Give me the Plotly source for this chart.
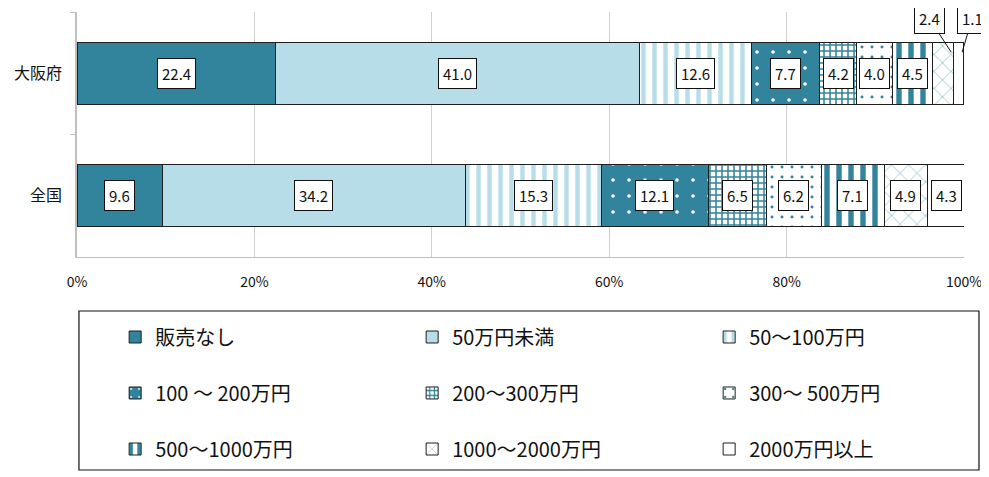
import plotly.graph_objects as go

# ---- data ----
categories = ["大阪府", "全国"]
series_names = ["販売なし", "50万円未満", "50～100万円", "100 ～ 200万円", "200～300万円",
                "300～ 500万円", "500～1000万円", "1000～2000万円", "2000万円以上"]
osaka = [22.4, 41.0, 12.6, 7.7, 4.2, 4.0, 4.5, 2.4, 1.1]
zenkoku = [9.6, 34.2, 15.3, 12.1, 6.5, 6.2, 7.1, 4.9, 4.3]
x_ticks = [0, 20, 40, 60, 80, 100]
x_tick_labels = ["0%", "20%", "40%", "60%", "80%", "100%"]

# ---- styles ----
TEAL = "#31849B"
LIGHT = "#B7DDE8"
WHITE = "#FFFFFF"
styles = [
    dict(bg=TEAL, shape="", fg=TEAL, size=8, sol=0.3),
    dict(bg=LIGHT, shape="", fg=LIGHT, size=8, sol=0.3),
    dict(bg=WHITE, shape="|", fg=LIGHT, size=11, sol=0.4),
    dict(bg=TEAL, shape=".", fg=WHITE, size=16, sol=0.04),
    dict(bg=WHITE, shape="+", fg=TEAL, size=6, sol=0.45),
    dict(bg=WHITE, shape=".", fg=TEAL, size=10, sol=0.07),
    dict(bg=WHITE, shape="|", fg=TEAL, size=12, sol=0.45),
    dict(bg=WHITE, shape="x", fg=TEAL, size=12, sol=0.07),
    dict(bg=WHITE, shape="", fg=WHITE, size=8, sol=0.3),
]
legend_ids = ["legend", "legend", "legend", "legend2", "legend2", "legend2",
              "legend3", "legend3", "legend3"]

FONT = "Noto Sans CJK JP"

fig = go.Figure()
for i, name in enumerate(series_names):
    st = styles[i]
    pattern = dict(shape=st["shape"], fgcolor=st["fg"], bgcolor=st["bg"],
                   size=st["size"], solidity=st["sol"], fillmode="replace")
    fig.add_trace(go.Bar(
        y=categories, x=[osaka[i], zenkoku[i]], orientation="h", name=name,
        marker=dict(color=st["bg"], line=dict(color="#1e1e1e", width=1), pattern=pattern),
        legend=legend_ids[i], hoverinfo="skip",
    ))

# ---- data labels ----
annotations = []
for cat, vals in zip(categories, [osaka, zenkoku]):
    cum = 0.0
    for i, v in enumerate(vals):
        mid = cum + v / 2
        common = dict(text=f"{v:.1f}", font=dict(family=FONT, size=15, color="#111"),
                      bgcolor="white", bordercolor="#111", borderwidth=1, borderpad=4,
                      xref="x", yref="y", y=cat)
        if cat == "大阪府" and i >= 7:
            tip = cum + v * 0.9
            annotations.append(dict(common, x=tip, showarrow=True, arrowhead=0,
                                    arrowwidth=1, arrowcolor="#111", yshift=21,
                                    ax=(-22 if i == 7 else 10), ay=-34))
        else:
            annotations.append(dict(common, x=mid, showarrow=False))
        cum += v

# page body adds an 8px offset, so the figure is 8px smaller and shifted up-left
fig.update_layout(
    barmode="stack",
    bargap=0.49,
    width=981, height=469,
    margin=dict(l=69, r=25, t=4, b=220, autoexpand=False),
    plot_bgcolor="white", paper_bgcolor="white",
    font=dict(family=FONT, color="#111"),
    annotations=annotations,
    xaxis=dict(range=[0, 100], tickvals=x_ticks, ticktext=x_tick_labels,
               showgrid=True, gridcolor="#d0d0d0", gridwidth=1,
               showline=True, linecolor="#bfbfbf", linewidth=1, zeroline=False,
               ticks="", tickfont=dict(family=FONT, size=14, color="#111"),
               ticklabelstandoff=12),
    yaxis=dict(categoryorder="array", categoryarray=categories, autorange="reversed",
               showline=True, linecolor="#bfbfbf", linewidth=1.5, ticks="outside",
               tickson="boundaries", ticklen=5, tickcolor="#bfbfbf",
               tickfont=dict(family=FONT, size=16, color="#111"), ticklabelstandoff=10),
    shapes=[dict(type="rect", xref="paper", yref="paper",
                 x0=0.0022, x1=1.0169, y0=-0.8694, y1=-0.2204,
                 line=dict(color="#111", width=1.2), fillcolor="rgba(0,0,0,0)")],
)

leg_common = dict(orientation="h", entrywidth=252, entrywidthmode="pixels",
                  font=dict(family=FONT, size=20, color="#111"),
                  bgcolor="rgba(0,0,0,0)", borderwidth=0, xanchor="left",
                  yanchor="middle", x=0.043, itemwidth=30, traceorder="normal")
fig.update_layout(
    legend=dict(leg_common, y=-0.3265),
    legend2=dict(leg_common, y=-0.555),
    legend3=dict(leg_common, y=-0.7837),
)

fig.write_html("out.html")
